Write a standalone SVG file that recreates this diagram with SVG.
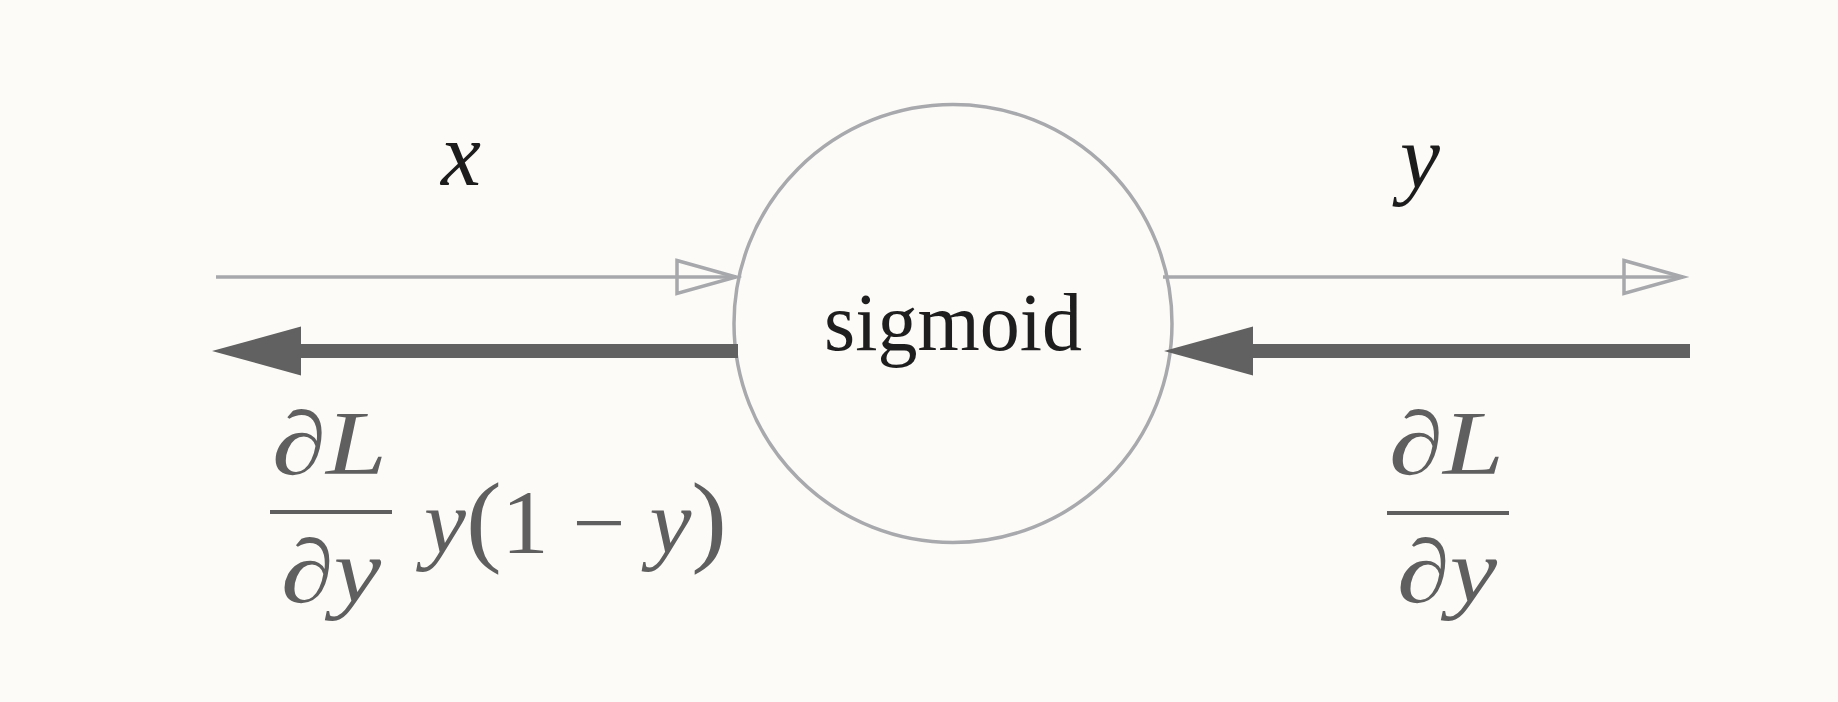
<svg xmlns="http://www.w3.org/2000/svg" width="1838" height="702" viewBox="0 0 1838 702">
<defs>
<style>
.thin{stroke:#a6a8ab;stroke-width:3.5;fill:none}
.thick{stroke:#616161;stroke-width:14;fill:none}
.node{fill:none;stroke:#a8a9ad;stroke-width:3.5}
.serif{font-family:"Liberation Serif","DejaVu Serif",serif}
.lbl{font-family:"Liberation Serif","DejaVu Serif",serif;font-style:italic;font-size:90px;fill:#1c1c1c}
.grad{font-family:"Liberation Serif","DejaVu Serif",serif;font-size:90px;fill:#5f5f5f}
.it{font-style:italic}
.par{font-size:102px}
.bar{stroke:#5f5f5f;stroke-width:4}
</style>
<marker id="open" markerUnits="userSpaceOnUse" viewBox="-3 -20 66 40" markerWidth="66" markerHeight="40" refX="59" refY="0" orient="auto" overflow="visible">
<path d="M0,-16.5 L59,0 L0,16.5 Z" fill="none" stroke="#a6a8ab" stroke-width="3.5" stroke-linejoin="miter"/>
</marker>
<marker id="solid" markerUnits="userSpaceOnUse" viewBox="0 -26 92 52" markerWidth="92" markerHeight="52" refX="51" refY="0" orient="auto" overflow="visible">
<path d="M0,-24.5 L89,0 L0,24.5 Z" fill="#616161"/>
</marker>
</defs>
<rect width="1838" height="702" fill="#fcfbf8"/>
<g id="sigmoid">
<circle class="node" cx="953" cy="323.5" r="219"/>
<text class="serif" x="953" y="350" font-size="82" fill="#1e1e1e" text-anchor="middle" textLength="258" lengthAdjust="spacingAndGlyphs">sigmoid</text>
</g>
<g id="connectors">
<line class="thin" x1="216" y1="277" x2="736" y2="277" marker-end="url(#open)"/>
<line class="thin" x1="1163" y1="277" x2="1683" y2="277" marker-end="url(#open)"/>
<line class="thick" x1="738" y1="351" x2="250" y2="351" marker-end="url(#solid)"/>
<line class="thick" x1="1690" y1="351" x2="1202" y2="351" marker-end="url(#solid)"/>
</g>
<g id="labels">
<text class="lbl" x="461" y="185" text-anchor="middle">x</text>
<text class="lbl" x="1420" y="188" text-anchor="middle">y</text>
<text class="grad" x="272" y="474" textLength="115" lengthAdjust="spacingAndGlyphs">∂<tspan class="it">L</tspan></text>
<line class="bar" x1="270" y1="512" x2="392" y2="512"/>
<text class="grad" x="281" y="602" textLength="100" lengthAdjust="spacingAndGlyphs">∂<tspan class="it">y</tspan></text>
<text class="grad" x="424" y="553" textLength="303" lengthAdjust="spacingAndGlyphs"><tspan class="it">y</tspan><tspan class="par">(</tspan>1 − <tspan class="it">y</tspan><tspan class="par">)</tspan></text>
<text class="grad" x="1389" y="474" textLength="115" lengthAdjust="spacingAndGlyphs">∂<tspan class="it">L</tspan></text>
<line class="bar" x1="1387" y1="513" x2="1509" y2="513"/>
<text class="grad" x="1397" y="602" textLength="100" lengthAdjust="spacingAndGlyphs">∂<tspan class="it">y</tspan></text>
</g>
</svg>
